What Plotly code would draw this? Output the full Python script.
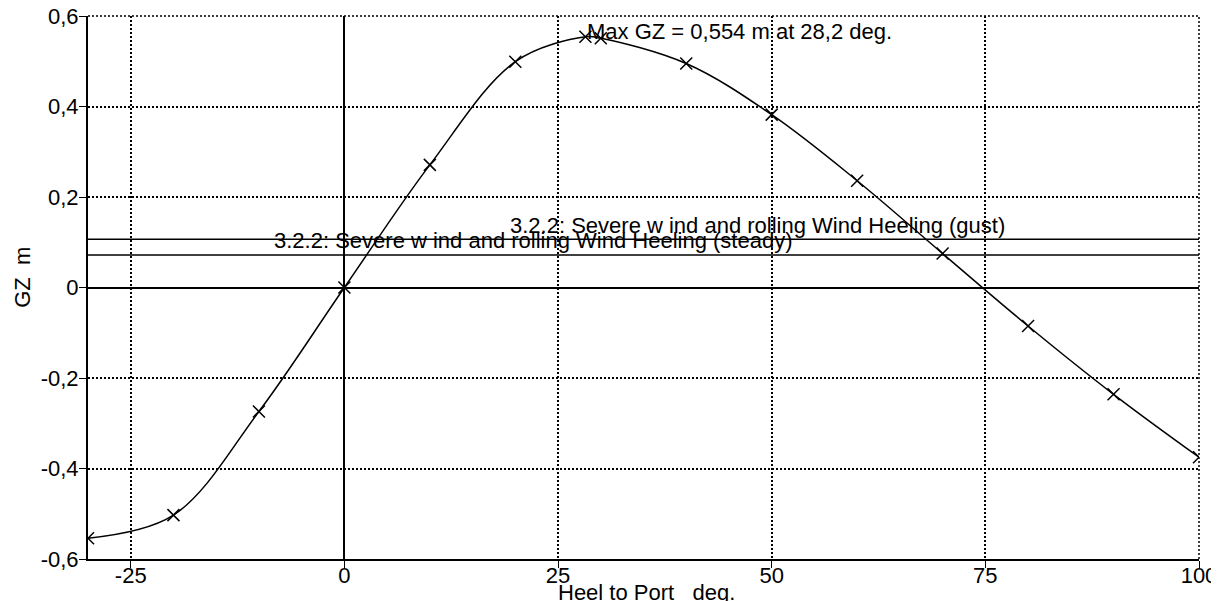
import plotly.graph_objects as go

# Data
heel = [-30, -20, -10, 0, 10, 20, 28.2, 30, 40, 50, 60, 70, 80, 90, 100]
gz = [-0.554, -0.503, -0.274, 0.0, 0.271, 0.499, 0.554, 0.551, 0.495, 0.382,
      0.236, 0.075, -0.085, -0.236, -0.375]

x_range = [-30, 100]
gust_level = 0.1065
steady_level = 0.0718

x_ticks = [-25, 0, 25, 50, 75, 100]
x_tick_text = ["-25", "0", "25", "50", "75", "100"]
y_ticks = [-0.6, -0.4, -0.2, 0, 0.2, 0.4, 0.6]
y_tick_text = ["-0,6", "-0,4", "-0,2", "0", "0,2", "0,4", "0,6"]

FONT = "Liberation Sans, Arial, sans-serif"
FS = 22

fig = go.Figure()

fig.add_trace(go.Scatter(x=x_range, y=[gust_level, gust_level], mode="lines",
                         line=dict(color="black", width=1.5), showlegend=False,
                         hoverinfo="skip"))
fig.add_trace(go.Scatter(x=x_range, y=[steady_level, steady_level], mode="lines",
                         line=dict(color="black", width=1.5), showlegend=False,
                         hoverinfo="skip"))

fig.add_trace(go.Scatter(x=heel, y=gz, mode="lines+markers",
                         line=dict(color="black", width=1.5, shape="spline", smoothing=1.0),
                         marker=dict(symbol="x-thin", size=12,
                                     line=dict(color="black", width=1.5)),
                         showlegend=False))

# dotted border on top and right
fig.add_shape(type="line", xref="paper", yref="paper", x0=0, x1=1, y0=1, y1=1,
              line=dict(color="black", width=1.5, dash="2px,2px"))
fig.add_shape(type="line", xref="paper", yref="paper", x0=1, x1=1, y0=0, y1=1,
              line=dict(color="black", width=1.5, dash="2px,2px"))

fig.add_annotation(x=28.2, y=0.565, xref="x", yref="y", text="Max GZ = 0,554 m at 28,2 deg.",
                   showarrow=False, xanchor="left", yanchor="middle",
                   font=dict(family=FONT, size=FS, color="black"))
fig.add_annotation(x=19.2, y=0.137, xref="x", yref="y",
                   text="3.2.2: Severe w ind and rolling Wind Heeling (gust)",
                   showarrow=False, xanchor="left", yanchor="middle",
                   font=dict(family=FONT, size=FS, color="black"))
fig.add_annotation(x=-8.5, y=0.103, xref="x", yref="y",
                   text="3.2.2: Severe w ind and rolling Wind Heeling (steady)",
                   showarrow=False, xanchor="left", yanchor="middle",
                   font=dict(family=FONT, size=FS, color="black"))
fig.add_annotation(x=24.8, y=-0.0608, xref="x", yref="paper",
                   text="Heel to Port\u00a0\u00a0\u00a0deg.",
                   showarrow=False, xanchor="left", yanchor="middle",
                   font=dict(family=FONT, size=FS, color="black"))
fig.add_annotation(x=-0.0589, y=0.519, xref="paper", yref="paper",
                   text="GZ\u00a0\u00a0m", textangle=-90,
                   showarrow=False, xanchor="center", yanchor="middle",
                   font=dict(family=FONT, size=FS, color="black"))

fig.update_xaxes(range=x_range, tickvals=x_ticks, ticktext=x_tick_text,
                 showgrid=True, gridcolor="black", gridwidth=1.5, griddash="2px,2px",
                 zeroline=True, zerolinecolor="black", zerolinewidth=2,
                 showline=True, linecolor="black", linewidth=1.5,
                 ticks="outside", ticklen=7, tickcolor="black", tickwidth=1,
                 automargin=False, ticklabeloverflow="allow", ticklabelstandoff=-11,
                 tickfont=dict(family=FONT, size=FS, color="black"))
fig.update_yaxes(range=[-0.6, 0.6], tickvals=y_ticks, ticktext=y_tick_text,
                 showgrid=True, gridcolor="black", gridwidth=1.5, griddash="2px,2px",
                 zeroline=True, zerolinecolor="black", zerolinewidth=2,
                 showline=True, linecolor="black", linewidth=2,
                 ticks="outside", ticklen=7, tickcolor="black", tickwidth=1,
                 automargin=False, ticklabeloverflow="allow", ticklabelstandoff=-4,
                 tickfont=dict(family=FONT, size=FS, color="black"))

# page body adds an 8px offset; margins compensate so the plot area lands
# at the reference position within the 1219x601 window
fig.update_layout(width=1219, height=601,
                  margin=dict(l=80, r=28, t=8, b=50, autoexpand=False),
                  plot_bgcolor="white", paper_bgcolor="white",
                  font=dict(family=FONT, size=FS, color="black"))

fig.write_html("out.html")
